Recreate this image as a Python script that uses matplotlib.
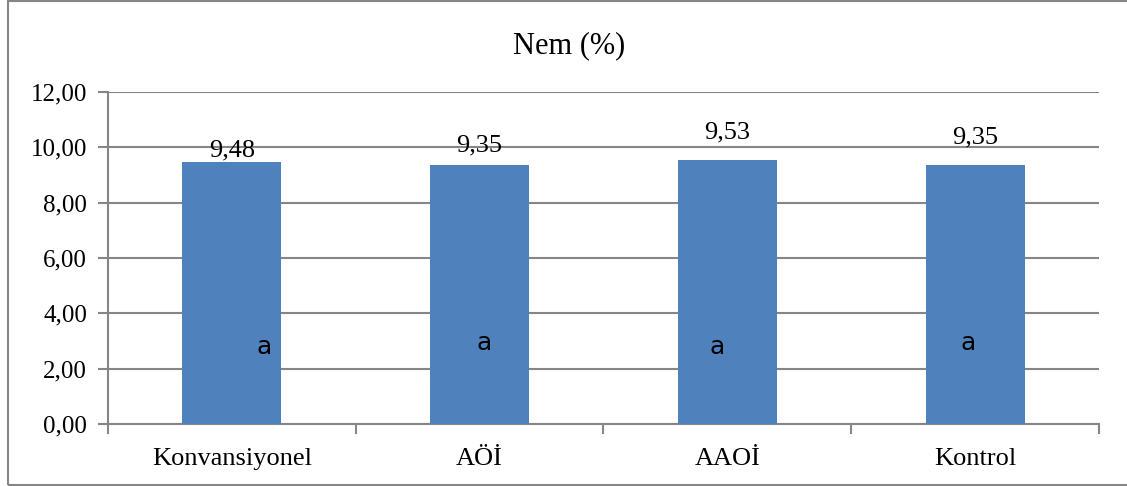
import matplotlib.pyplot as plt
from matplotlib.patches import Rectangle
from matplotlib.ticker import FixedLocator, FuncFormatter

groups = ["Konvansiyonel", "AÖİ", "AAOİ", "Kontrol"]
nem = [9.48, 9.35, 9.53, 9.35]
letters = ["a", "a", "a", "a"]
yticks = [0, 2, 4, 6, 8, 10, 12]

grey = "#868686"
serif = "Liberation Serif"

fig = plt.figure(figsize=(11.27, 4.86), dpi=100)
ax = fig.add_axes([0.0958, 0.1276, 0.8793, 0.6831])

x = list(range(len(groups)))
ax.bar(x, nem, width=0.4, color="#4F81BD", zorder=3)
ax.set_xlim(-0.5, len(groups) - 0.5)
ax.set_ylim(0, 12)

ax.yaxis.set_major_locator(FixedLocator(yticks))
ax.yaxis.set_major_formatter(FuncFormatter(lambda v, p: f"{v:.2f}".replace(".", ",")))
ax.grid(axis="y", color=grey, linewidth=1.5, zorder=0)

# category ticks sit between bars, labels under each bar
ax.set_xticks([i - 0.5 for i in range(len(groups) + 1)])
ax.set_xticklabels([])
ax.set_xticks(x, minor=True)
ax.set_xticklabels(groups, minor=True, fontsize=19, fontfamily=serif)
ax.tick_params(axis="x", which="minor", length=0, pad=17)
ax.tick_params(axis="x", which="major", length=7, width=1.5, color=grey, direction="out")
ax.tick_params(axis="y", length=7, width=1.5, color=grey, labelsize=18, pad=8)
for t in ax.get_yticklabels():
    t.set_fontfamily(serif)

for s in ["top", "right"]:
    ax.spines[s].set_visible(False)
for s in ["left", "bottom"]:
    ax.spines[s].set_color(grey)
    ax.spines[s].set_linewidth(1.5)

# value labels above the bars
label_off = [8, 14, 20, 20]
for i, v in enumerate(nem):
    ax.annotate(f"{v:.2f}".replace(".", ","), (i, v), xytext=(0, label_off[i]),
                textcoords="offset points", ha="center", va="center",
                fontsize=19, fontfamily=serif)

# significance letters inside the bars
letter_pos = [(0.13, 2.78), (0.02, 2.93), (-0.04, 2.78), (-0.03, 2.93)]
for i, (dx, yy) in enumerate(letter_pos):
    ax.text(i + dx, yy, letters[i], ha="center", va="center", fontsize=18,
            fontfamily="DejaVu Sans", zorder=4)

fig.text(0.505, 0.905, "Nem (%)", ha="center", va="center", fontsize=22, fontfamily=serif)

# outer frame, running off the right edge
fig.patches.append(Rectangle((0.007, 0.003), 1.05, 0.994, transform=fig.transFigure,
                             fill=False, edgecolor=grey, linewidth=1.5))

fig.savefig("out.png", dpi=100)
